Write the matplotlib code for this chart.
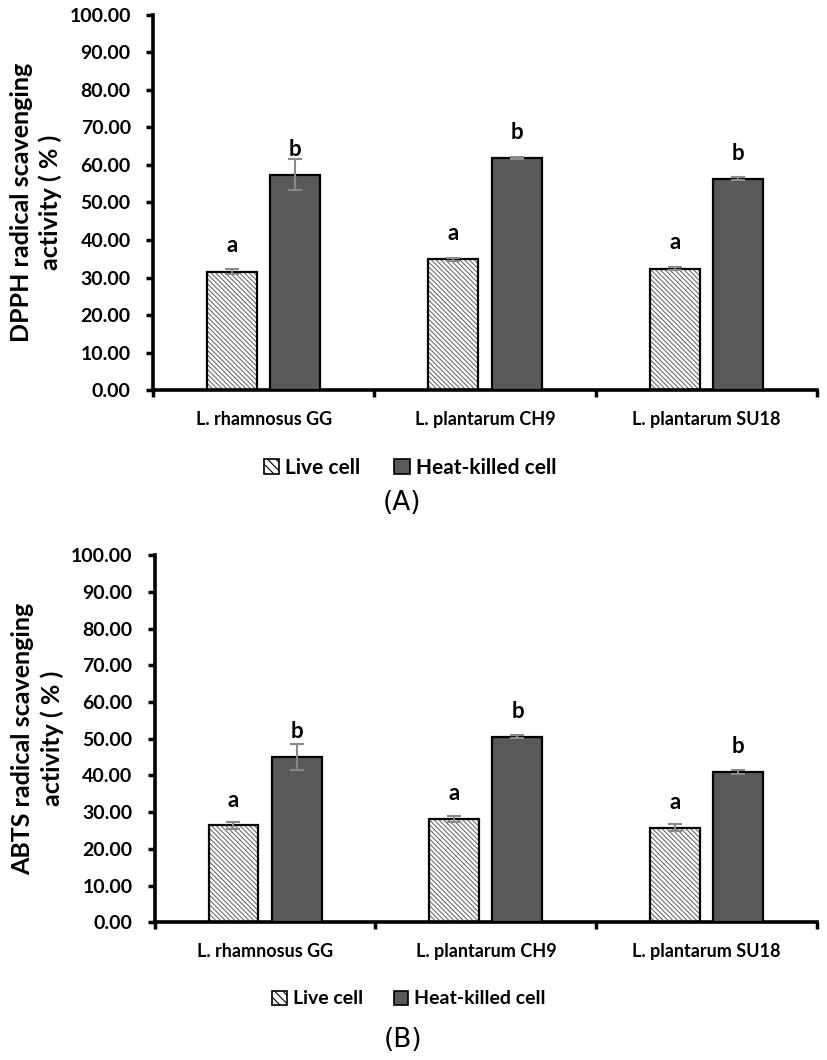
import numpy as np
import matplotlib
matplotlib.use("Agg")
import matplotlib.pyplot as plt
from matplotlib.patches import Patch

plt.rcParams['font.family'] = ['Lato', 'DejaVu Sans']
plt.rcParams['hatch.linewidth'] = 0.8

strains = ['L. rhamnosus GG', 'L. plantarum CH9', 'L. plantarum SU18']
groups = ['Live cell', 'Heat-killed cell']

# DPPH (A)
dpph_live = [31.6, 34.9, 32.4]
dpph_live_err = [0.7, 0.4, 0.5]
dpph_heat = [57.4, 61.9, 56.3]
dpph_heat_err = [4.2, 0.3, 0.4]
dpph_letters = [['a', 'a', 'a'], ['b', 'b', 'b']]

# ABTS (B)
abts_live = [26.4, 28.1, 25.8]
abts_live_err = [1.0, 0.8, 1.0]
abts_heat = [45.0, 50.6, 41.0]
abts_heat_err = [3.6, 0.4, 0.5]
abts_letters = [['a', 'a', 'a'], ['b', 'b', 'b']]

y_ticks = np.arange(0, 101, 10)

DARK = '#595959'
HATCH = '#6e6e6e'
ERR = '#8a8a8a'
HATCH_PAT = '\\' * 7


def draw_panel(ax, live, live_err, heat, heat_err, letters, ylabel):
    x = np.arange(len(strains))
    w = 0.226
    off = 0.143
    # hatched live bars: hatch layer then black outline
    ax.bar(x - off, live, w, color='white', edgecolor=HATCH, hatch=HATCH_PAT, linewidth=0, zorder=2)
    ax.bar(x - off, live, w, color='none', edgecolor='black', linewidth=1.6, zorder=3)
    ax.bar(x + off, heat, w, color=DARK, edgecolor='black', linewidth=1.6, zorder=3)
    ax.errorbar(x - off, live, yerr=live_err, fmt='none', ecolor=ERR, elinewidth=1.5,
                capsize=5, capthick=1.5, zorder=4)
    ax.errorbar(x + off, heat, yerr=heat_err, fmt='none', ecolor=ERR, elinewidth=1.5,
                capsize=5, capthick=1.5, zorder=4)
    for i in range(len(strains)):
        ax.text(x[i] - off, live[i] + 4.0, letters[0][i], ha='center', va='bottom',
                fontsize=16, fontweight='bold')
        ax.text(x[i] + off, heat[i] + 4.0, letters[1][i], ha='center', va='bottom',
                fontsize=16, fontweight='bold')

    ax.set_xlim(-0.5, len(strains) - 0.5)
    ax.set_ylim(0, 100)
    ax.set_yticks(y_ticks)
    ax.set_yticklabels([f'{v:.2f}' for v in y_ticks], fontsize=14, fontweight='bold')
    ax.set_xticks(x)
    ax.set_xticklabels(strains, fontsize=13, fontweight='bold')
    ax.set_xticks(np.arange(-0.5, len(strains)), minor=True)
    ax.tick_params(axis='x', which='major', length=0, pad=15)
    ax.tick_params(axis='x', which='minor', length=5, width=2.5, direction='out')
    ax.tick_params(axis='y', length=5, width=2.5, direction='out', pad=11)
    for s in ['top', 'right']:
        ax.spines[s].set_visible(False)
    for s in ['left', 'bottom']:
        ax.spines[s].set_linewidth(2.6)
    ax.set_ylabel(ylabel, fontsize=18, fontweight='bold', linespacing=1.3)
    ax.yaxis.set_label_coords(-0.137, 0.5)


fig = plt.figure(figsize=(8.27, 10.6), dpi=100)
ax1 = fig.add_axes([0.185, 0.632, 0.803, 0.354])
ax2 = fig.add_axes([0.187, 0.130, 0.801, 0.346])

draw_panel(ax1, dpph_live, dpph_live_err, dpph_heat, dpph_heat_err, dpph_letters,
           'DPPH radical scavenging\nactivity ( % )')
draw_panel(ax2, abts_live, abts_live_err, abts_heat, abts_heat_err, abts_letters,
           'ABTS radical scavenging\nactivity ( % )')

handles = [Patch(facecolor='white', edgecolor='black', hatch='\\\\\\\\', linewidth=1.2),
           Patch(facecolor=DARK, edgecolor='black', linewidth=1.2)]

fig.legend(handles, groups, loc='center', bbox_to_anchor=(410 / 827, 1 - 468 / 1060),
           ncol=2, frameon=False, handlelength=0.75, handleheight=0.75, handletextpad=0.3,
           columnspacing=1.6, prop={'size': 15, 'weight': 'bold'})
fig.legend(handles, groups, loc='center', bbox_to_anchor=(409 / 827, 1 - 999 / 1060),
           ncol=2, frameon=False, handlelength=0.75, handleheight=0.75, handletextpad=0.3,
           columnspacing=1.6, prop={'size': 14, 'weight': 'bold'})

fig.text(402 / 827, 1 - 503 / 1060, '(A)', ha='center', va='center', fontsize=19,
         family='DejaVu Sans')
fig.text(403 / 827, 1 - 1040 / 1060, '(B)', ha='center', va='center', fontsize=19,
         family='DejaVu Sans')

fig.savefig('out.png', dpi=100)
